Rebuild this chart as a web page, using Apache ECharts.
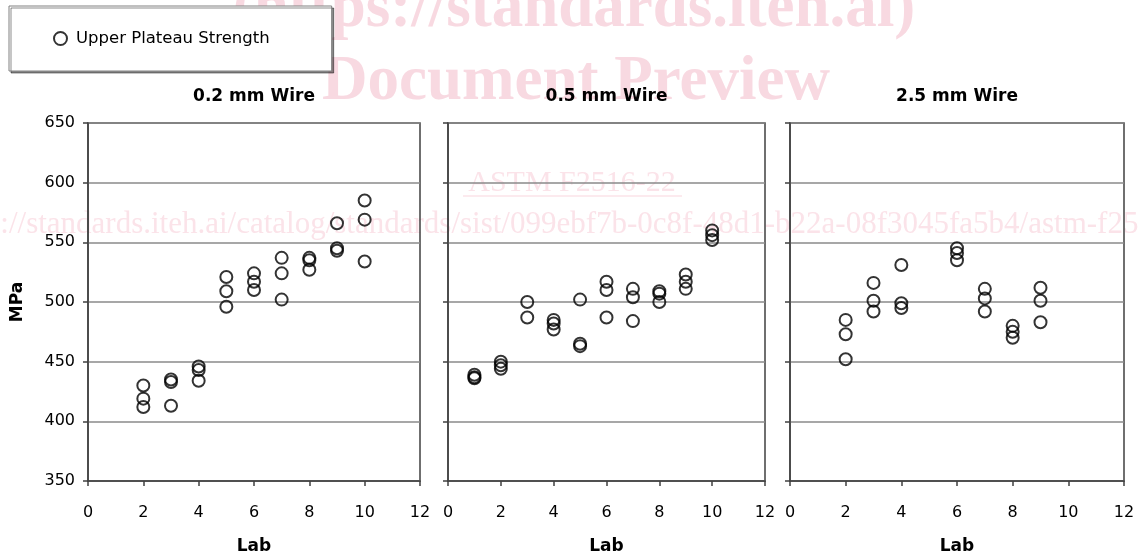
<!DOCTYPE html>
<html><head><meta charset="utf-8">
<script src="https://cdn.jsdelivr.net/npm/echarts@6/dist/echarts.min.js"></script>
<style>html,body{margin:0;padding:0;background:#fff}#c{width:1138px;height:557px}</style>
</head><body><div id="c"></div>
<script>
const panelTitles = ['0.2 mm Wire', '0.5 mm Wire', '2.5 mm Wire'];
const seriesName = 'Upper Plateau Strength';
const labs02 = [2, 3, 4, 5, 6, 7, 8, 9, 10];
const vals02 = [[430,419,412],[435,433,413],[446,443,434],[521,509,496],[524,517,510],[537,524,502],[537,535,527],[566,545,543],[585,569,534]];
const labs05 = [1, 2, 3, 4, 5, 6, 7, 8, 9, 10];
const vals05 = [[439,437,436],[450,447,444],[500,487],[485,482,477],[502,465,463],[517,510,487],[511,504,484],[509,507,500],[523,517,511],[560,556,552]];
const labs25 = [2, 3, 4, 6, 7, 8, 9];
const vals25 = [[485,473,452],[516,501,492],[531,499,495],[545,541,535],[511,503,492],[480,475,470],[512,501,483]];
const xRange = [0, 12, 2];
const yRange = [350, 650, 50];
const xName = 'Lab';
const yName = 'MPa';

const FONT = '"DejaVu Sans", Verdana, sans-serif';
const SERIF = '"Liberation Serif", "DejaVu Serif", serif';
const gridBoxes = [
  {left: 88, top: 123, width: 332, height: 358},
  {left: 448, top: 123, width: 317, height: 358},
  {left: 790, top: 123, width: 334, height: 358}
];
const panels = [[labs02, vals02], [labs05, vals05], [labs25, vals25]];

function toPoints(labs, vals) {
  const out = [];
  labs.forEach((l, i) => vals[i].forEach(v => out.push([l, v])));
  return out;
}

const axisColor = '#404040';
const option = {
  animation: false,
  backgroundColor: '#fff',
  title: panelTitles.map((t, i) => ({
    text: t,
    left: gridBoxes[i].left + gridBoxes[i].width / 2,
    top: 88,
    textAlign: 'center',
    padding: 0,
    textStyle: {fontFamily: FONT, fontSize: 17, fontWeight: 'bold', color: '#000'}
  })),
  legend: {
    data: [seriesName],
    left: 9, top: 6,
    padding: [24, 62, 24, 44],
    backgroundColor: '#fff',
    borderColor: '#808080', borderWidth: 1,
    shadowColor: 'rgba(0,0,0,0.45)', shadowOffsetX: 2, shadowOffsetY: 2, shadowBlur: 0,
    itemWidth: 13, itemHeight: 13,
    icon: 'circle',
    itemStyle: {color: '#fff', borderColor: '#000', borderWidth: 2},
    selectedMode: false,
    textStyle: {fontFamily: FONT, fontSize: 16.5, color: '#000', padding: [0, 0, 0, 4]}
  },
  graphic: {
    elements: [
      {type: 'text', z: -10, x: 574, y: 10, style: {text: '(https://standards.iteh.ai)', font: 'bold 63px ' + SERIF, fill: '#f8d9e1', textAlign: 'center', textVerticalAlign: 'middle'}},
      {type: 'text', z: -10, x: 576, y: 83, style: {text: 'Document Preview', font: 'bold 63px ' + SERIF, fill: '#f8d9e1', textAlign: 'center', textVerticalAlign: 'middle'}},
      {type: 'text', z: -10, x: 572, y: 183, style: {text: 'ASTM F2516-22', font: '30px ' + SERIF, fill: '#fbe3e9', textAlign: 'center', textVerticalAlign: 'middle'}},
      {type: 'line', z: -10, shape: {x1: 463, y1: 196, x2: 682, y2: 196}, style: {stroke: '#fbe3e9', lineWidth: 1.5}},
      {type: 'text', z: -10, x: -60, y: 225, style: {text: 'https://standards.iteh.ai/catalog/standards/sist/099ebf7b-0c8f-48d1-b22a-08f3045fa5b4/astm-f2516-22', font: '31px ' + SERIF, fill: '#fbe3e9', textAlign: 'left', textVerticalAlign: 'middle'}}
    ]
  },
  grid: gridBoxes.map(g => Object.assign({show: true, outerBoundsMode: 'none', containLabel: false, borderColor: axisColor, borderWidth: 1.5, backgroundColor: 'rgba(0,0,0,0)'}, g)),
  xAxis: gridBoxes.map((g, i) => ({
    gridIndex: i, type: 'value', min: xRange[0], max: xRange[1], interval: xRange[2],
    axisLine: {show: true, onZero: false, lineStyle: {color: axisColor, width: 1.5}},
    axisTick: {show: true, length: 5, lineStyle: {color: axisColor, width: 1.5}},
    axisLabel: {fontFamily: FONT, fontSize: 16, color: '#000', margin: 24},
    splitLine: {show: false},
    name: xName, nameLocation: 'middle', nameGap: 57,
    nameTextStyle: {fontFamily: FONT, fontSize: 17, fontWeight: 'bold', color: '#000'}
  })),
  yAxis: gridBoxes.map((g, i) => ({
    gridIndex: i, type: 'value', min: yRange[0], max: yRange[1], interval: yRange[2],
    axisLine: {show: true, onZero: false, lineStyle: {color: axisColor, width: 1.5}},
    axisTick: {show: true, length: 5, lineStyle: {color: axisColor, width: 1.5}},
    axisLabel: {show: i === 0, fontFamily: FONT, fontSize: 16, color: '#000', margin: 13},
    splitLine: {show: true, lineStyle: {color: '#8a8a8a', width: 1.5}},
    name: i === 0 ? yName : '', nameLocation: 'middle', nameGap: 62,
    nameTextStyle: {fontFamily: FONT, fontSize: 17, fontWeight: 'bold', color: '#000'}
  })),
  series: panels.map((p, i) => ({
    name: seriesName, type: 'scatter', xAxisIndex: i, yAxisIndex: i,
    symbol: 'circle', symbolSize: 12,
    itemStyle: {color: 'rgba(255,255,255,0)', borderColor: '#000', borderWidth: 2},
    emphasis: {disabled: true},
    data: toPoints(p[0], p[1])
  }))
};
const chart = echarts.init(document.getElementById('c'), null, {renderer: 'canvas'});
chart.setOption(option);
</script></body></html>
